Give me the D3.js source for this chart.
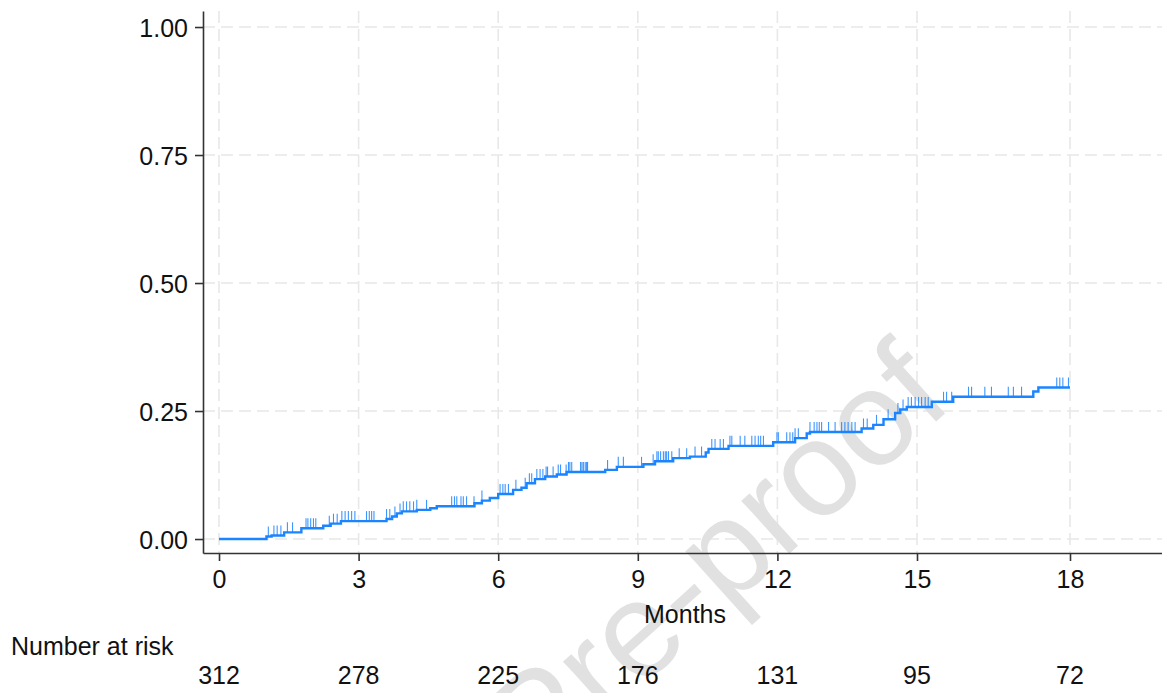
<!DOCTYPE html>
<html>
<head>
<meta charset="utf-8">
<script src="https://cdn.jsdelivr.net/npm/d3@7"></script>
<style>
  html, body { margin: 0; padding: 0; background: #fff; }
  svg { display: block; font-family: "Liberation Sans", Arial, Helvetica, sans-serif; }
</style>
</head>
<body>
<svg id="chart" width="1162" height="693"></svg>
<script>
// Axis ticks
const monthTicks = [0, 3, 6, 9, 12, 15, 18];
const probTicks = [0, 0.25, 0.5, 0.75, 1];

// Number at risk at each month tick
const atRisk = [312, 278, 225, 176, 131, 95, 72];

// Kaplan-Meier failure estimate: event times (months) and cumulative failure after each
const eventTimes = [0, 1.02, 1.13, 1.40, 1.77, 2.24, 2.40, 2.62, 3.60, 3.72, 3.82, 3.93, 4.25, 4.54, 4.68,
  5.49, 5.65, 5.82, 6.00, 6.32, 6.50, 6.61, 6.79, 7.01, 7.26, 7.47, 8.30, 8.55, 9.12, 9.37, 9.76,
  10.12, 10.46, 10.52, 10.95, 11.91, 12.38, 12.63, 12.70, 13.81, 14.06, 14.28, 14.53, 14.64, 14.78,
  15.29, 15.71, 17.28, 17.38];
const failureProb = [0, 0.005, 0.007, 0.013, 0.021, 0.026, 0.030, 0.035, 0.039, 0.044, 0.050, 0.054, 0.057, 0.060, 0.064,
  0.070, 0.075, 0.080, 0.088, 0.096, 0.100, 0.109, 0.117, 0.122, 0.126, 0.131, 0.135, 0.141, 0.146, 0.152, 0.158,
  0.161, 0.169, 0.176, 0.182, 0.189, 0.197, 0.206, 0.209, 0.216, 0.223, 0.234, 0.246, 0.253, 0.258,
  0.268, 0.278, 0.288, 0.296];
const followUpEnd = 18;

// Censoring times (months)
const censorTimes = [1.06, 1.18, 1.25, 1.33, 1.47, 1.58, 1.87, 1.91, 1.97, 2.03, 2.08, 2.37, 2.46, 2.54, 2.64, 2.71,
  2.78, 2.85, 2.92, 3.17, 3.23, 3.28, 3.33, 3.60, 3.67, 3.78, 3.89, 3.96, 4.03, 4.10, 4.18, 4.25, 4.46,
  5.00, 5.06, 5.11, 5.20, 5.25, 5.32, 5.48, 5.65, 6.04, 6.10, 6.15, 6.22, 6.38, 6.58, 6.67, 6.72, 6.83,
  6.90, 6.96, 7.03, 7.06, 7.18, 7.29, 7.34, 7.46, 7.51, 7.54, 7.58, 7.77, 7.80, 7.83, 7.87, 7.90, 7.92,
  8.35, 8.58, 8.69, 9.08, 9.33, 9.41, 9.44, 9.49, 9.55, 9.59, 9.62, 9.66, 9.73, 9.89, 10.05, 10.23, 10.37,
  10.59, 10.66, 10.77, 10.84, 10.98, 11.02, 11.20, 11.30, 11.45, 11.52, 11.59, 11.64, 11.70, 11.99, 12.02,
  12.20, 12.27, 12.33, 12.38, 12.45, 12.70, 12.79, 12.85, 12.90, 12.95, 13.10, 13.24, 13.38, 13.45, 13.52,
  13.60, 13.67, 13.85, 13.93, 14.13, 14.38, 14.59, 14.70, 14.81, 14.88, 14.96, 15.03, 15.09, 15.16, 15.22,
  15.52, 15.58, 15.68, 16.01, 16.07, 16.33, 16.46, 16.79, 16.89, 17.05, 17.74, 17.80, 17.86, 17.97];

const svg = d3.select("#chart");
const W = 1162, H = 693;
const plotLeft = 203, plotRight = W, plotTop = 11, plotBottom = 553;

// Month axis: the last interval is drawn slightly wider than the others
const x = d3.scaleLinear()
  .domain([-0.344, 15, 18, 19.8])
  .range([plotLeft, 917, 1070, plotRight]);
const y = d3.scaleLinear()
  .domain([-0.0273, 1.0313])
  .range([plotBottom, plotTop]);

const gridColor = "#e8e8e8";
const curveColor = "#1b84ff";
const fontSize = 25;

// Gridlines
svg.append("g").selectAll("line").data(probTicks).join("line")
  .attr("x1", plotLeft).attr("x2", plotRight)
  .attr("y1", d => y(d)).attr("y2", d => y(d))
  .attr("stroke", gridColor).attr("stroke-width", 1.6).attr("stroke-dasharray", "12,6");
svg.append("g").selectAll("line").data(monthTicks).join("line")
  .attr("x1", d => x(d)).attr("x2", d => x(d))
  .attr("y1", plotTop).attr("y2", plotBottom)
  .attr("stroke", gridColor).attr("stroke-width", 1.6).attr("stroke-dasharray", "12,6");

// Watermark
svg.append("text")
  .attr("transform", "translate(537,781) rotate(-42)")
  .attr("font-size", 135)
  .attr("fill", "#e1e1e1")
  .text("Pre-proof");

// Step curve
const stepPoints = eventTimes.map((t, i) => [t, failureProb[i]]);
stepPoints.push([followUpEnd, failureProb[failureProb.length - 1]]);
svg.append("path")
  .datum(stepPoints)
  .attr("fill", "none")
  .attr("stroke", curveColor)
  .attr("stroke-width", 2.4)
  .attr("d", d3.line().x(d => x(d[0])).y(d => y(d[1])).curve(d3.curveStepAfter));

// Censoring ticks sit on the curve
const valueAt = t => failureProb[Math.max(0, d3.bisectRight(eventTimes, t) - 1)];
svg.append("g").selectAll("line").data(censorTimes).join("line")
  .attr("x1", d => x(d)).attr("x2", d => x(d))
  .attr("y1", d => y(valueAt(d))).attr("y2", d => y(valueAt(d)) - 10)
  .attr("stroke", curveColor).attr("stroke-width", 1.1).attr("opacity", 0.85);

// Axes
const yAxis = svg.append("g")
  .attr("transform", `translate(${plotLeft},0)`)
  .call(d3.axisLeft(y).tickValues(probTicks).tickFormat(d3.format(".2f")).tickSize(8).tickSizeOuter(0).tickPadding(7));
const xAxis = svg.append("g")
  .attr("transform", `translate(0,${plotBottom})`)
  .call(d3.axisBottom(x).tickValues(monthTicks).tickFormat(d3.format("d")).tickSize(8).tickSizeOuter(0).tickPadding(9));
[yAxis, xAxis].forEach(g => {
  g.select(".domain").attr("stroke", "#333").attr("stroke-width", 1.6);
  g.selectAll(".tick line").attr("stroke", "#333").attr("stroke-width", 1.6);
  g.selectAll(".tick text").attr("font-size", fontSize).attr("fill", "#111")
    .attr("font-family", '"Liberation Sans", Arial, sans-serif');
});
yAxis.selectAll(".tick text").attr("dy", "0.36em");
xAxis.selectAll(".tick text").attr("dy", "0.71em");

// Axis title
svg.append("text")
  .attr("x", 685).attr("y", 623)
  .attr("text-anchor", "middle")
  .attr("font-size", fontSize).attr("fill", "#111")
  .text("Months");

// Risk table
svg.append("text")
  .attr("x", 11).attr("y", 655)
  .attr("font-size", fontSize).attr("fill", "#111")
  .text("Number at risk");
svg.append("g").selectAll("text").data(monthTicks).join("text")
  .attr("x", d => x(d)).attr("y", 684)
  .attr("text-anchor", "middle")
  .attr("font-size", fontSize).attr("fill", "#111")
  .text((d, i) => atRisk[i]);
</script>
</body>
</html>
